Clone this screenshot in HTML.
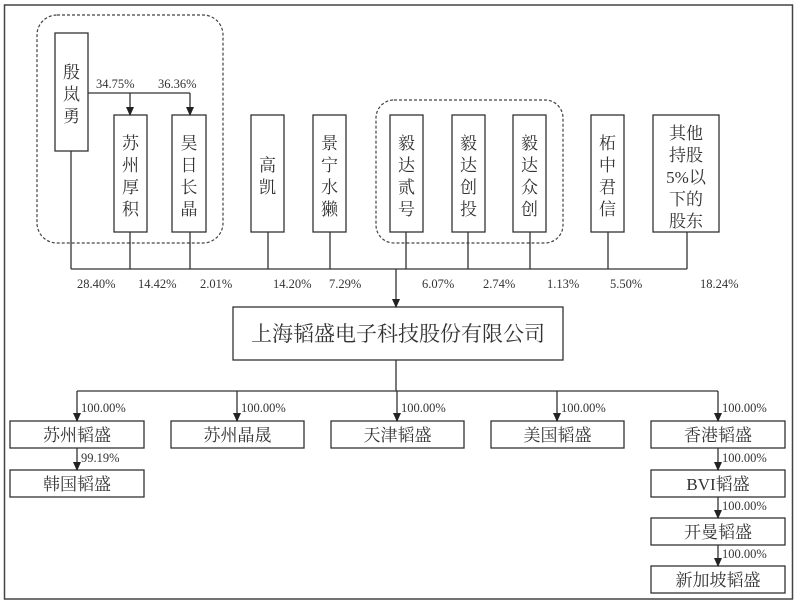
<!DOCTYPE html>
<html><head><meta charset="utf-8"><style>
html,body{margin:0;padding:0;background:#fff}
svg{display:block}
text{font-family:"Liberation Serif","Noto Serif CJK SC",serif;fill:#333}
.v{font-size:17px;text-anchor:middle}
.p{font-size:12.5px}
.c{font-size:17px;text-anchor:middle}
</style></head><body>
<svg width="800" height="605" viewBox="0 0 800 605" xmlns="http://www.w3.org/2000/svg">
<defs><marker id="a" markerWidth="9" markerHeight="8" refX="8" refY="4" orient="auto" markerUnits="userSpaceOnUse"><path d="M0,0 L9,4 L0,8 z" fill="#222"/></marker></defs>
<rect x="4.5" y="5" width="788" height="594" fill="none" stroke="#444" stroke-width="1.5"/>
<g fill="none" stroke="#444" stroke-dasharray="3,2" stroke-width="1.2">
<rect x="37" y="15" width="186" height="228" rx="20"/>
<rect x="376" y="100" width="187" height="143" rx="18"/>
</g>
<g fill="none" stroke="#333" stroke-width="1.3">
<rect x="55" y="33" width="33" height="118"/>
<rect x="114" y="115" width="33" height="117"/>
<rect x="172" y="115" width="34" height="117"/>
<rect x="251" y="115" width="33" height="117"/>
<rect x="313" y="115" width="33" height="117"/>
<rect x="390" y="115" width="33" height="117"/>
<rect x="452" y="115" width="33" height="117"/>
<rect x="513" y="115" width="33" height="117"/>
<rect x="591" y="115" width="33" height="117"/>
<rect x="653" y="115" width="66" height="117"/>
<rect x="233" y="307" width="330" height="53"/>
<rect x="10" y="421" width="134" height="27"/>
<rect x="171" y="421" width="133" height="27"/>
<rect x="331" y="421" width="133" height="27"/>
<rect x="491" y="421" width="133" height="27"/>
<rect x="651" y="421" width="134" height="27"/>
<rect x="10" y="470" width="134" height="27"/>
<rect x="651" y="470" width="134" height="27"/>
<rect x="651" y="518" width="134" height="27"/>
<rect x="651" y="566" width="134" height="27"/>
</g>
<g stroke="#333" stroke-width="1.3" fill="none">
<path d="M88,93 H190"/>
<path d="M130,93 V115" marker-end="url(#a)"/>
<path d="M190,93 V115" marker-end="url(#a)"/>
<path d="M71,151 V269 M130,232 V269 M190,232 V269 M268,232 V269 M330,232 V269 M406,232 V269 M468,232 V269 M530,232 V269 M608,232 V269 M687,232 V269 M71,269 H687"/>
<path d="M396,269 V307" marker-end="url(#a)"/>
<path d="M396,360 V391 M77,391 H718"/>
<path d="M77,391 V421" marker-end="url(#a)"/>
<path d="M237,391 V421" marker-end="url(#a)"/>
<path d="M397,391 V421" marker-end="url(#a)"/>
<path d="M557,391 V421" marker-end="url(#a)"/>
<path d="M718,391 V421" marker-end="url(#a)"/>
<path d="M77,448 V470" marker-end="url(#a)"/>
<path d="M718,448 V470" marker-end="url(#a)"/>
<path d="M718,497 V518" marker-end="url(#a)"/>
<path d="M718,545 V566" marker-end="url(#a)"/>
</g>
<g class="v">
<text x="71.5" y="78">殷</text><text x="71.5" y="100">岚</text><text x="71.5" y="122">勇</text>
<text x="130.5" y="149">苏</text><text x="130.5" y="171">州</text><text x="130.5" y="193">厚</text><text x="130.5" y="215">积</text>
<text x="189" y="149">昊</text><text x="189" y="171">日</text><text x="189" y="193">长</text><text x="189" y="215">晶</text>
<text x="267.5" y="171">高</text><text x="267.5" y="193">凯</text>
<text x="329.5" y="149">景</text><text x="329.5" y="171">宁</text><text x="329.5" y="193">水</text><text x="329.5" y="215">獭</text>
<text x="406.5" y="149">毅</text><text x="406.5" y="171">达</text><text x="406.5" y="193">贰</text><text x="406.5" y="215">号</text>
<text x="468.5" y="149">毅</text><text x="468.5" y="171">达</text><text x="468.5" y="193">创</text><text x="468.5" y="215">投</text>
<text x="529.5" y="149">毅</text><text x="529.5" y="171">达</text><text x="529.5" y="193">众</text><text x="529.5" y="215">创</text>
<text x="607.5" y="149">柘</text><text x="607.5" y="171">中</text><text x="607.5" y="193">君</text><text x="607.5" y="215">信</text>
<text x="686" y="139">其他</text><text x="686" y="161">持股</text><text x="686" y="183">5%以</text><text x="686" y="205">下的</text><text x="686" y="227">股东</text>
</g>
<g class="p">
<text x="96" y="88">34.75%</text><text x="158" y="88">36.36%</text>
<text x="77" y="288">28.40%</text><text x="138" y="288">14.42%</text><text x="200" y="288">2.01%</text>
<text x="273" y="288">14.20%</text><text x="329" y="288">7.29%</text><text x="422" y="288">6.07%</text>
<text x="483" y="288">2.74%</text><text x="547" y="288">1.13%</text><text x="610" y="288">5.50%</text><text x="700" y="288">18.24%</text>
<text x="81" y="412">100.00%</text><text x="241" y="412">100.00%</text><text x="401" y="412">100.00%</text>
<text x="561" y="412">100.00%</text><text x="722" y="412">100.00%</text>
<text x="81" y="462">99.19%</text><text x="722" y="462">100.00%</text><text x="722" y="510">100.00%</text><text x="722" y="558">100.00%</text>
</g>
<text x="398" y="341" style="font-size:21px;text-anchor:middle">上海韬盛电子科技股份有限公司</text>
<g class="c">
<text x="77" y="441">苏州韬盛</text><text x="237.5" y="441">苏州晶晟</text><text x="397.5" y="441">天津韬盛</text>
<text x="557.5" y="441">美国韬盛</text><text x="718" y="441">香港韬盛</text>
<text x="77" y="490">韩国韬盛</text><text x="718" y="490">BVI韬盛</text><text x="718" y="538">开曼韬盛</text><text x="718" y="586">新加坡韬盛</text>
</g>
</svg>
</body></html>
